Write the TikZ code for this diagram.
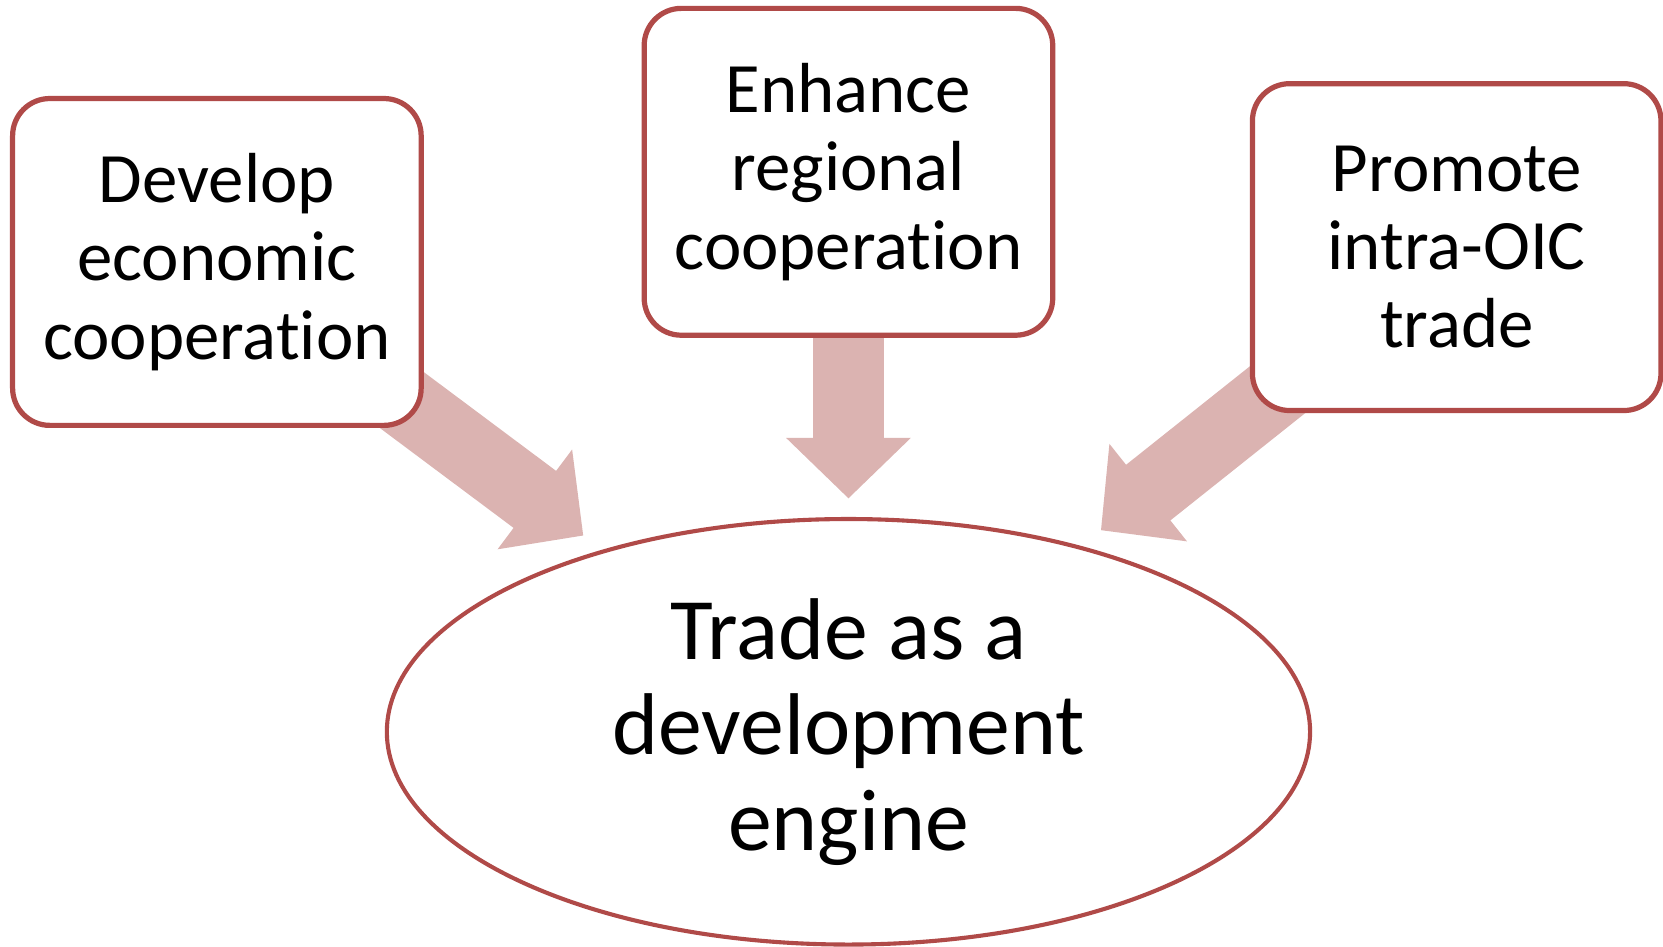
\documentclass[tikz,border=0pt]{standalone}
\usepackage{fontspec}
\setmainfont{Carlito}[Ligatures={NoCommon}]
\usepackage{xcolor}
\usepackage{tikz}
\usetikzlibrary{shapes.geometric,arrows.meta,backgrounds}

\definecolor{brickred}{RGB}{176,74,72}
\definecolor{rosefill}{RGB}{219,179,177}

\begin{document}
\begin{tikzpicture}[
	x=0.01cm, y=-0.01cm,
	% --- box for each goal ---
	goalbox/.style={
		rectangle, rounded corners=0.35cm, draw=brickred, line width=1.4pt,
		fill=white, align=center, inner sep=0pt,
		minimum width=3.85cm, minimum height=3.08cm,
		font=\fontsize{19}{21}\selectfont
	},
	% --- central ellipse ---
	core/.style={
		ellipse, draw=brickred, line width=1.1pt, fill=white,
		align=center, inner sep=0pt,
		minimum width=8.7cm, minimum height=4.01cm,
		font=\fontsize{23.5}{25.6}\selectfont
	},
	% --- block arrows ---
	push/.style={
		draw=rosefill, line width=0.67cm,
		-{Triangle[width=1.14cm, length=0.57cm]}
	}
	]
	\useasboundingbox (0,0) rectangle (1568,892);

	% Three goals
	\node[goalbox] (dev) at (204.5,247) {Develop\\economic\\cooperation};
	\node[goalbox] (enh) at (800,162) {Enhance\\regional\\cooperation};
	\node[goalbox] (pro) at (1373.5,233) {Promote\\intra-OIC\\trade};

	% Centre
	\node[core] (engine) at (800,690) {Trade as a\\development\\engine};

	% Arrow tips
	\coordinate (tipdev) at (550,505);
	\coordinate (tipenh) at (800,470);
	\coordinate (tippro) at (1038,500);

	\begin{scope}[on background layer]
		\draw[push] (dev.center) -- (tipdev);
		\draw[push] (enh.center) -- (tipenh);
		\draw[push] (pro.center) -- (tippro);
	\end{scope}
\end{tikzpicture}
\end{document}
